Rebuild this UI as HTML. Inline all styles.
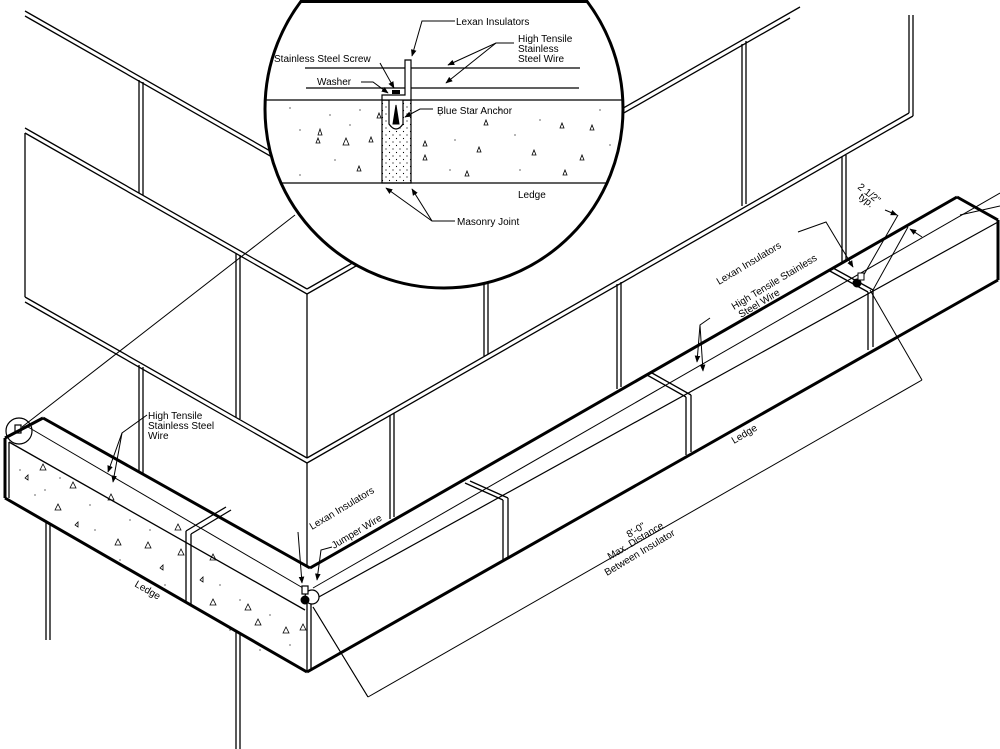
<!DOCTYPE html>
<html><head><meta charset="utf-8"><style>
html,body{margin:0;padding:0;background:#fff;}
svg{display:block;}
text{font-family:"Liberation Sans",sans-serif;font-size:10px;fill:#000;}
</style></head><body>
<svg width="1000" height="749" viewBox="0 0 1000 749" xmlns="http://www.w3.org/2000/svg">
<defs>
<marker id="ar" viewBox="0 0 10 10" refX="9" refY="5" markerWidth="7" markerHeight="7" orient="auto"><path d="M0,1 L10,5 L0,9 z" fill="#000"/></marker>
<pattern id="dots" width="7" height="7" patternUnits="userSpaceOnUse"><circle cx="1" cy="2" r="0.6" fill="#000"/><circle cx="4.5" cy="5.5" r="0.6" fill="#000"/></pattern>
<clipPath id="cc"><circle cx="444" cy="109" r="178"/></clipPath>
</defs>
<g stroke="#000" stroke-width="1.3" fill="none">
<!-- left wall courses -->
<line x1="25" y1="11" x2="300" y2="168"/><line x1="25" y1="16" x2="300" y2="173"/>
<line x1="25" y1="128" x2="307" y2="289"/><line x1="25" y1="133" x2="307" y2="294"/>
<line x1="25" y1="297" x2="307" y2="458"/><line x1="25" y1="302" x2="307" y2="463"/>
<line x1="25" y1="133" x2="25" y2="297"/>
<!-- right wall courses -->
<line x1="307" y1="289" x2="800" y2="7"/><line x1="307" y1="294" x2="790" y2="18"/>
<line x1="307" y1="458" x2="909" y2="113"/><line x1="307" y1="463" x2="913" y2="116"/>
<line x1="909" y1="113" x2="909" y2="15"/><line x1="913" y1="116" x2="913" y2="15"/>
<line x1="307" y1="294" x2="307" y2="458"/><line x1="307" y1="463" x2="307" y2="567"/>
<!-- verticals -->
<line x1="139" y1="80" x2="139" y2="193"/><line x1="143" y1="82" x2="143" y2="195"/>
<line x1="236" y1="253" x2="236" y2="417"/><line x1="240" y1="255" x2="240" y2="419"/>
<line x1="139" y1="365" x2="139" y2="474"/><line x1="143" y1="367" x2="143" y2="476"/>
<line x1="484" y1="190" x2="484" y2="356"/><line x1="488" y1="188" x2="488" y2="354"/>
<line x1="742" y1="44" x2="742" y2="206"/><line x1="746" y1="41" x2="746" y2="204"/>
<line x1="617" y1="284" x2="617" y2="389"/><line x1="621" y1="282" x2="621" y2="387"/>
<line x1="842" y1="157" x2="842" y2="264"/><line x1="846" y1="155" x2="846" y2="262"/>
<line x1="390" y1="415" x2="390" y2="519"/><line x1="394" y1="413" x2="394" y2="517"/>
<!-- below ledge -->
<line x1="46" y1="520" x2="46" y2="640"/><line x1="50" y1="522" x2="50" y2="640"/>
<line x1="236" y1="630" x2="236" y2="749"/><line x1="240" y1="632" x2="240" y2="749"/>
<!-- leader to inset -->
<line x1="22" y1="427" x2="295" y2="215" stroke-width="1"/>
</g>
<!-- left ledge -->
<polygon points="43,418 307,567 307,672 5,498 5,438" fill="#fff"/>
<rect x="9" y="442" width="0" height="0"/>
<g stroke="#000" fill="none">
<line x1="43" y1="418" x2="310" y2="568" stroke-width="3"/>
<line x1="43" y1="418" x2="5" y2="438" stroke-width="3"/>
<line x1="5" y1="438" x2="5" y2="498" stroke-width="3"/>
<line x1="9" y1="442" x2="9" y2="498" stroke-width="1.3"/>
<line x1="9" y1="442" x2="305" y2="610" stroke-width="1.3"/>
<line x1="28" y1="427" x2="303" y2="588" stroke-width="1"/>
<line x1="5" y1="498" x2="307" y2="672" stroke-width="3"/>
<line x1="186" y1="531" x2="186" y2="602" stroke-width="1.3"/>
<line x1="191" y1="534" x2="191" y2="605" stroke-width="1.3"/>
<line x1="186" y1="531" x2="226" y2="507" stroke-width="1.3"/>
<line x1="191" y1="534" x2="231" y2="510" stroke-width="1.3"/>
<line x1="307" y1="598" x2="307" y2="672" stroke-width="1.3"/>
<line x1="311" y1="598" x2="311" y2="670" stroke-width="1.3"/>
<!-- right ledge -->
<line x1="310" y1="568" x2="957" y2="197" stroke-width="3"/>
<line x1="957" y1="197" x2="998" y2="220" stroke-width="3"/>
<line x1="998" y1="220" x2="998" y2="280" stroke-width="3"/>
<line x1="307" y1="672" x2="998" y2="280" stroke-width="3"/>
<line x1="317" y1="598" x2="998" y2="222" stroke-width="1.2"/>
<line x1="313" y1="588" x2="1000" y2="193" stroke-width="1"/>
<line x1="960" y1="215" x2="1000" y2="206" stroke-width="1"/>
<line x1="465" y1="483" x2="503" y2="500" stroke-width="1.3"/><line x1="470" y1="481" x2="508" y2="498" stroke-width="1.3"/>
<line x1="503" y1="500" x2="503" y2="562" stroke-width="1.3"/><line x1="508" y1="498" x2="508" y2="559" stroke-width="1.3"/>
<line x1="647" y1="375" x2="686" y2="397" stroke-width="1.3"/><line x1="652" y1="373" x2="691" y2="395" stroke-width="1.3"/>
<line x1="686" y1="397" x2="686" y2="455" stroke-width="1.3"/><line x1="691" y1="395" x2="691" y2="452" stroke-width="1.3"/>
<line x1="828" y1="270" x2="868" y2="292" stroke-width="1.3"/><line x1="833" y1="268" x2="873" y2="290" stroke-width="1.3"/>
<line x1="868" y1="292" x2="868" y2="350" stroke-width="1.3"/><line x1="873" y1="290" x2="873" y2="347" stroke-width="1.3"/>
<!-- dimension -->
<g stroke-width="1"><line x1="313" y1="607" x2="368" y2="697"/><line x1="368" y1="697" x2="922" y2="380"/><line x1="922" y1="380" x2="870" y2="290"/>
<polyline points="798,232 826,222 853,267" marker-end="url(#ar)"/>
<line x1="898" y1="215" x2="862" y2="278"/><line x1="908" y1="227" x2="873" y2="290"/>
<line x1="885" y1="210" x2="897" y2="215" marker-end="url(#ar)"/><line x1="922" y1="237" x2="910" y2="229" marker-end="url(#ar)"/>
<polyline points="710,318 700,325 697,362" marker-end="url(#ar)"/><line x1="700" y1="325" x2="703" y2="371" marker-end="url(#ar)"/>
<polyline points="147,415 122,433 108,472" marker-end="url(#ar)"/><line x1="122" y1="433" x2="113" y2="482" marker-end="url(#ar)"/>
<line x1="298" y1="532" x2="302" y2="583" marker-end="url(#ar)"/>
<polyline points="332,547 321,550 317,580" marker-end="url(#ar)"/>
<line x1="313" y1="607" x2="368" y2="697"/>
</g>
<circle cx="312" cy="597" r="7" fill="#fff" stroke-width="1.2"/>
<circle cx="305" cy="600" r="4" fill="#000"/>
<rect x="302" y="586" width="6" height="8" fill="#fff" stroke-width="1.2"/>
<circle cx="857" cy="283" r="4" fill="#000"/>
<rect x="858" y="273" width="6" height="7" fill="#fff" stroke-width="1"/>
<circle cx="19" cy="431" r="13" stroke-width="1.2"/>
<rect x="15" y="425" width="6" height="8" stroke-width="1.2"/>
</g>
<!-- stipple left ledge -->
<g fill="none" stroke="#000" stroke-width="0.8">
<path d="M40,470 l3,-6 l3,6z M70,488 l3,-6 l3,6z M55,510 l3,-6 l3,6z M108,500 l3,-6 l3,6z M115,545 l3,-6 l3,6z M145,548 l3,-6 l3,6z M178,555 l3,-6 l3,6z M175,530 l3,-6 l3,6z M210,560 l3,-6 l3,6z M255,625 l3,-6 l3,6z M283,633 l3,-6 l3,6z M300,630 l3,-6 l3,6z M210,605 l3,-6 l3,6z M245,610 l3,-6 l3,6z M25,478 l3,-3 l0,5z M75,525 l3,-3 l0,5z M160,568 l3,-3 l0,5z M200,580 l3,-3 l0,5z"/>
</g>
<g fill="#000">
<circle cx="20" cy="470" r=".6"/><circle cx="35" cy="495" r=".6"/><circle cx="60" cy="478" r=".6"/><circle cx="90" cy="505" r=".6"/><circle cx="95" cy="530" r=".6"/><circle cx="130" cy="520" r=".6"/><circle cx="150" cy="530" r=".6"/><circle cx="165" cy="585" r=".6"/><circle cx="220" cy="585" r=".6"/><circle cx="240" cy="600" r=".6"/><circle cx="270" cy="615" r=".6"/><circle cx="290" cy="645" r=".6"/><circle cx="230" cy="630" r=".6"/><circle cx="260" cy="650" r=".6"/><circle cx="45" cy="490" r=".6"/><circle cx="120" cy="560" r=".6"/>
</g>
<!-- inset -->
<circle cx="444" cy="109" r="179" fill="#fff" stroke="#000" stroke-width="3"/>
<line x1="300" y1="1.5" x2="588" y2="1.5" stroke="#000" stroke-width="3"/>
<g clip-path="url(#cc)" stroke="#000" fill="none">
<line x1="260" y1="100" x2="630" y2="100" stroke-width="1.2"/>
<line x1="260" y1="183" x2="630" y2="183" stroke-width="1.2"/>
<line x1="305" y1="68" x2="580" y2="68" stroke-width="1.2"/>
<line x1="306" y1="88" x2="579" y2="88" stroke-width="1.2"/>
<rect x="382" y="100" width="29" height="83" fill="url(#dots)" stroke-width="1.2"/>
<path d="M389,100 L389,124 Q396,134 403,124 L403,100" fill="#fff" stroke-width="1.2"/>
<path d="M396,105 L393,124 L399,124 z" fill="#000"/>
<path d="M405,60 L411,60 L411,100 L382,100 L382,95 L405,95 z" fill="#fff" stroke-width="1.2"/>
<rect x="392" y="90" width="8" height="4" fill="#000" stroke="none"/>
</g>
<g fill="none" stroke="#000" stroke-width="0.8">
<path d="M318,135 l2,-6 l2,6z M316,143 l2,-5 l2,5z M343,145 l3,-7 l3,7z M369,142 l2,-5 l2,5z M357,171 l2,-5 l2,5z M377,118 l2,-5 l2,5z M423,146 l2,-5 l2,5z M423,160 l2,-5 l2,5z M484,125 l2,-5 l2,5z M477,152 l2,-5 l2,5z M465,176 l2,-5 l2,5z M532,155 l2,-5 l2,5z M560,128 l2,-5 l2,5z M590,130 l2,-5 l2,5z M580,160 l2,-5 l2,5z M563,175 l2,-5 l2,5z"/>
</g>
<g fill="#000"><circle cx="290" cy="108" r=".6"/><circle cx="300" cy="130" r=".6"/><circle cx="330" cy="115" r=".6"/><circle cx="350" cy="125" r=".6"/><circle cx="335" cy="160" r=".6"/><circle cx="300" cy="175" r=".6"/><circle cx="360" cy="110" r=".6"/><circle cx="440" cy="115" r=".6"/><circle cx="455" cy="140" r=".6"/><circle cx="500" cy="110" r=".6"/><circle cx="515" cy="135" r=".6"/><circle cx="540" cy="120" r=".6"/><circle cx="600" cy="110" r=".6"/><circle cx="610" cy="145" r=".6"/><circle cx="450" cy="170" r=".6"/><circle cx="520" cy="170" r=".6"/></g>
<g fill="none" stroke="#000" stroke-width="1">
<polyline points="455,21 422,21 412,56" marker-end="url(#ar)"/>
<polyline points="514,43 496,43 448,65" marker-end="url(#ar)"/><line x1="496" y1="43" x2="446" y2="83" marker-end="url(#ar)"/>
<line x1="380" y1="63" x2="394" y2="88" marker-end="url(#ar)"/>
<polyline points="361,82 373,82 388,93" marker-end="url(#ar)"/>
<polyline points="433,109 420,109 405,117" marker-end="url(#ar)"/>
<polyline points="455,221 432,221 386,188" marker-end="url(#ar)"/><line x1="432" y1="221" x2="412" y2="189" marker-end="url(#ar)"/>
</g>
<text x="456" y="25">Lexan Insulators</text>
<text x="518" y="42">High Tensile</text><text x="518" y="52">Stainless</text><text x="518" y="62">Steel Wire</text>
<text x="274" y="62">Stainless Steel Screw</text>
<text x="317" y="85">Washer</text>
<text x="437" y="114">Blue Star Anchor</text>
<text x="518" y="198">Ledge</text>
<text x="457" y="225">Masonry Joint</text>
<!-- main labels -->
<text x="148" y="419">High Tensile</text><text x="148" y="429">Stainless Steel</text><text x="148" y="439">Wire</text>
<text transform="translate(134,586) rotate(30)" font-size="9">Ledge</text>
<text transform="translate(312,530) rotate(-31)">Lexan Insulators</text>
<text transform="translate(334,549) rotate(-31)">Jumper Wire</text>
<text transform="translate(719,285) rotate(-31)">Lexan Insulators</text>
<text transform="translate(734,310) rotate(-31)">High Tensile Stainless</text>
<text transform="translate(741,318) rotate(-31)">Steel Wire</text>
<text transform="translate(734,444) rotate(-31)">Ledge</text>
<text transform="translate(857,188) rotate(38)">2 1/2"</text>
<text transform="translate(858,198) rotate(38)">typ.</text>
<text transform="translate(629,538) rotate(-31)">8'-0"</text>
<text transform="translate(610,560) rotate(-31)">Max. Distance</text>
<text transform="translate(607,576) rotate(-31)">Between Insulator</text>
</svg>
</body></html>
